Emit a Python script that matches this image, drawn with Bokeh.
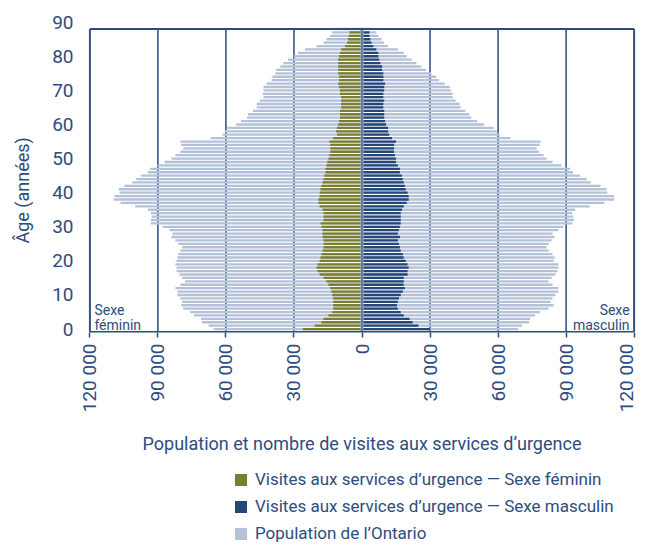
import math
from bokeh.plotting import figure
from bokeh.layouts import column
from bokeh.models import (Range1d, FixedTicker, Legend, LegendItem, Label,
                          ColumnDataSource)
from bokeh.embed import file_html
from bokeh.resources import INLINE

# ---------------- data (thousands of people / visits), ages 0..88 ----------------
ages = list(range(0, 89))

female_pop = [65.4, 67.6, 70.6, 71.0, 74.1, 75.8, 78.8, 79.7, 79.3, 80.1,
              81.4, 81.4, 82.3, 80.1, 78.0, 79.3, 80.5, 81.8, 81.8, 82.3,
              81.8, 81.4, 81.0, 80.1, 79.3, 81.0, 82.3, 84.0, 83.6, 84.9,
              87.9, 93.1, 93.1, 92.7, 93.1, 94.4, 100.0, 106.5, 109.5, 109.1,
              106.9, 107.3, 104.8, 101.3, 99.6, 97.4, 94.4, 93.5, 90.1, 87.0,
              84.0, 82.3, 80.1, 78.8, 79.7, 80.1, 66.7, 61.5, 60.4, 59.4,
              55.5, 53.3, 50.7, 50.3, 48.1, 46.4, 46.4, 45.1, 43.4, 43.8,
              43.4, 43.4, 42.1, 39.9, 39.5, 38.2, 37.8, 36.0, 34.7, 32.6,
              30.0, 28.2, 25.2, 20.0, 17.0, 15.7, 14.0, 13.1, 11.0]

male_pop = [68.9, 70.6, 73.7, 74.1, 76.3, 78.4, 82.3, 84.5, 83.2, 84.0,
            85.3, 86.6, 86.6, 84.0, 82.3, 83.6, 85.3, 86.2, 86.6, 86.6,
            84.5, 84.9, 84.0, 82.3, 81.4, 82.3, 83.6, 84.9, 84.0, 86.6,
            88.8, 92.7, 93.5, 93.1, 92.7, 94.0, 100.4, 106.9, 111.2, 111.2,
            108.2, 107.8, 105.2, 100.9, 99.1, 96.1, 93.1, 91.8, 87.9, 84.0,
            81.4, 80.1, 78.0, 77.1, 78.4, 78.8, 65.5, 60.7, 59.4, 58.1,
            53.8, 50.8, 48.2, 47.3, 45.6, 43.5, 43.0, 41.3, 40.0, 40.0,
            39.1, 38.7, 36.5, 34.0, 32.7, 30.5, 28.3, 26.2, 24.0, 21.9,
            19.7, 18.4, 15.8, 11.5, 9.8, 8.5, 7.2, 6.3, 5.0]

female_ed = [26.1, 20.9, 17.9, 17.0, 14.8, 13.1, 12.7, 12.7, 12.7, 12.7,
             13.1, 13.5, 14.0, 14.8, 15.7, 17.0, 18.7, 19.6, 20.0, 19.6,
             18.7, 18.3, 17.9, 17.4, 17.0, 17.0, 17.0, 17.4, 17.4, 17.4,
             17.9, 18.3, 17.0, 17.0, 17.0, 17.4, 18.7, 19.2, 19.2, 18.7,
             18.7, 18.3, 17.9, 17.4, 17.0, 16.6, 16.1, 16.1, 15.7, 15.3,
             14.8, 14.4, 14.0, 14.0, 14.0, 14.4, 12.7, 11.0, 11.4, 11.0,
             10.5, 10.1, 9.7, 9.7, 9.7, 9.2, 9.2, 9.2, 9.2, 9.7,
             9.7, 10.1, 10.5, 10.1, 10.1, 10.5, 10.5, 10.5, 10.5, 10.5,
             10.1, 9.7, 9.2, 7.5, 6.6, 6.2, 5.8, 5.5, 0.0]

male_ed = [30.1, 24.9, 22.3, 21.0, 18.4, 17.1, 15.8, 15.4, 15.8, 16.3,
           17.1, 18.0, 18.9, 18.4, 18.4, 18.4, 20.1, 20.1, 20.6, 20.1,
           19.3, 18.4, 18.0, 17.1, 16.7, 16.3, 15.8, 16.7, 15.8, 16.3,
           16.7, 17.1, 17.1, 17.1, 17.1, 17.6, 18.4, 19.7, 20.6, 20.6,
           20.1, 19.3, 18.9, 18.4, 18.0, 17.6, 16.7, 16.7, 15.8, 15.0,
           15.0, 14.5, 14.1, 14.1, 14.1, 15.0, 13.2, 12.0, 11.5, 11.5,
           10.6, 10.2, 9.8, 9.8, 9.8, 9.4, 9.4, 9.8, 9.4, 9.4,
           9.8, 9.8, 10.2, 9.4, 9.4, 9.4, 8.9, 8.9, 8.1, 7.6,
           7.2, 7.2, 6.3, 5.0, 4.2, 3.7, 3.3, 3.3, 0.0]

x_ticks = [-120000, -90000, -60000, -30000, 0, 30000, 60000, 90000, 120000]
x_tick_labels = ["120 000", "90 000", "60 000", "30 000", "0",
                 "30 000", "60 000", "90 000", "120 000"]
grid_x = [-90000, -60000, -30000, 30000, 60000, 90000]
y_ticks = [0, 10, 20, 30, 40, 50, 60, 70, 80, 90]
x_title = "Population et nombre de visites aux services d\u2019urgence"
y_title = "\u00c2ge (ann\u00e9es)"
legend_labels = ["Visites aux services d\u2019urgence \u2014 Sexe f\u00e9minin",
                 "Visites aux services d\u2019urgence \u2014 Sexe masculin",
                 "Population de l\u2019Ontario"]

# chart extent (the drawn frame) in data units
X_MIN, X_MAX = -120000, 120000
Y_BOT, Y_TOP = -0.88, 88.0

# ---------------- style ----------------
FONT = "Roboto"
TEXT = "#2E4C7E"
FRAME = "#2D4B7C"
POP = "#B4C2D9"
F_ED = "#7B7D2F"
M_ED = "#244679"

src = ColumnDataSource(dict(
    age=ages,
    pop_left=[-v * 1000 for v in female_pop],
    pop_right=[v * 1000 for v in male_pop],
    fed_left=[-v * 1000 for v in female_ed],
    med_right=[v * 1000 for v in male_ed],
    zero=[0] * len(ages),
))

p = figure(width=637, height=460,
           x_range=Range1d(-120600, 120600), y_range=Range1d(-1.0, 90.2),
           output_backend="svg", toolbar_location=None,
           min_border_left=88, min_border_right=2, min_border_top=21, min_border_bottom=128)
p.outline_line_color = None
p.grid.visible = False

# vertical grid lines, stopping at the chart's top edge
p.segment(x0=grid_x, y0=[Y_BOT] * len(grid_x), x1=grid_x, y1=[Y_TOP] * len(grid_x),
          line_color=FRAME, line_width=1.5)

H = 0.68
r_pop = p.hbar(y="age", left="pop_left", right="pop_right", height=H, source=src,
               fill_color=POP, line_color=None)
r_f = p.hbar(y="age", left="fed_left", right="zero", height=H, source=src,
             fill_color=F_ED, line_color=None)
r_m = p.hbar(y="age", left="zero", right="med_right", height=H, source=src,
             fill_color=M_ED, line_color=None)

# zero line
p.segment(x0=[0], y0=[Y_BOT], x1=[0], y1=[Y_TOP], line_color="#9DB0CE", line_width=3)
p.segment(x0=[0], y0=[Y_BOT], x1=[0], y1=[Y_TOP], line_color=FRAME, line_width=1)

# chart border
p.segment(x0=[X_MIN, X_MAX, X_MIN, X_MIN], y0=[Y_BOT, Y_BOT, Y_BOT, Y_TOP],
          x1=[X_MIN, X_MAX, X_MAX, X_MAX], y1=[Y_TOP, Y_TOP, Y_BOT, Y_TOP],
          line_color=FRAME, line_width=2)

# x axis
p.xaxis.ticker = FixedTicker(ticks=x_ticks)
p.xaxis.major_label_overrides = {t: l for t, l in zip(x_ticks, x_tick_labels)}
p.xaxis.major_label_orientation = math.pi / 2
p.xaxis.axis_line_color = None
p.xaxis.major_tick_out = 5
p.xaxis.major_tick_in = 0
p.xaxis.major_tick_line_color = FRAME
p.xaxis.major_tick_line_width = 1.5
p.xaxis.minor_tick_line_color = None
p.xaxis.major_label_standoff = 6
p.xaxis.major_label_text_font = FONT
p.xaxis.major_label_text_font_size = "19px"
p.xaxis.major_label_text_color = TEXT
p.xaxis.axis_label = x_title
p.xaxis.axis_label_standoff = 18
p.xaxis.axis_label_text_font = FONT
p.xaxis.axis_label_text_font_size = "18px"
p.xaxis.axis_label_text_font_style = "normal"
p.xaxis.axis_label_text_color = TEXT

# y axis
p.yaxis.ticker = FixedTicker(ticks=y_ticks)
p.yaxis.axis_line_color = None
p.yaxis.major_tick_line_color = None
p.yaxis.minor_tick_line_color = None
p.yaxis.major_tick_out = 0
p.yaxis.major_tick_in = 0
p.yaxis.major_label_standoff = 15
p.yaxis.major_label_text_font = FONT
p.yaxis.major_label_text_font_size = "19px"
p.yaxis.major_label_text_color = TEXT
p.yaxis.axis_label = y_title + "\u00a0" * 6
p.yaxis.axis_label_standoff = 16
p.yaxis.axis_label_text_font = FONT
p.yaxis.axis_label_text_font_size = "18px"
p.yaxis.axis_label_text_font_style = "normal"
p.yaxis.axis_label_text_color = TEXT

def lab(**kw):
    base = dict(text_font=FONT, text_color=TEXT, text_font_size="14px")
    base.update(kw)
    p.add_layout(Label(**base))

lab(x=-118000, y=5.49, text="Sexe", text_align="left", text_baseline="alphabetic")
lab(x=-118000, y=1.09, text="f\u00e9minin", text_align="left", text_baseline="alphabetic")
lab(x=118000, y=5.49, text="Sexe", text_align="right", text_baseline="alphabetic")
lab(x=118000, y=1.09, text="masculin", text_align="right", text_baseline="alphabetic")

# ---------------- legend strip below the chart ----------------
LH = 83
p2 = figure(width=637, height=LH, x_range=Range1d(0, 637), y_range=Range1d(0, LH),
            output_backend="svg", toolbar_location=None, min_border=0)
p2.axis.visible = False
p2.grid.visible = False
p2.outline_line_color = None
# swatch renderers for the legend (kept outside the strip's visible range)
swatch = ColumnDataSource(dict(y=[-50], l=[0], r=[1]))
g_f = p2.hbar(y="y", left="l", right="r", height=1, source=swatch, fill_color=F_ED, line_color=None)
g_m = p2.hbar(y="y", left="l", right="r", height=1, source=swatch, fill_color=M_ED, line_color=None)
g_p = p2.hbar(y="y", left="l", right="r", height=1, source=swatch, fill_color=POP, line_color=None)

legend = Legend(items=[LegendItem(label=legend_labels[0], renderers=[g_f]),
                       LegendItem(label=legend_labels[1], renderers=[g_m]),
                       LegendItem(label=legend_labels[2], renderers=[g_p])],
                location=(145, 0), orientation="vertical",
                glyph_width=15, glyph_height=15, label_standoff=7,
                label_height=18, spacing=7, padding=0, margin=0,
                border_line_color=None, background_fill_alpha=0,
                label_text_font=FONT, label_text_font_size="17px", label_text_color=TEXT)
p2.add_layout(legend)

open("out.html", "w").write(file_html(column(p, p2, spacing=0), INLINE))
